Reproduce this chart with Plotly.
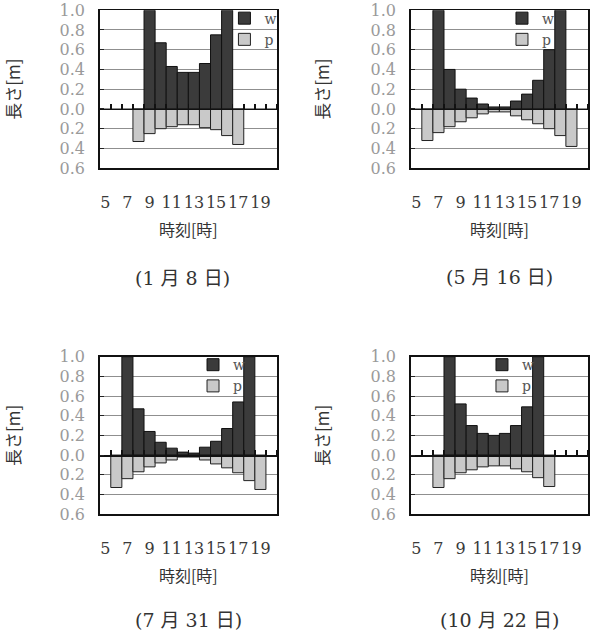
import plotly.graph_objects as go

# ---------------- data ----------------
TICK_HOURS = [5, 7, 9, 11, 13, 15, 17, 19]
TICK_HOUR_LABELS = [str(h) for h in TICK_HOURS]
Y_TICKS = [-0.6, -0.4, -0.2, 0.0, 0.2, 0.4, 0.6, 0.8, 1.0]
Y_TICK_LABELS = ["0.6", "0.4", "0.2", "0.0", "0.2", "0.4", "0.6", "0.8", "1.0"]
BOUNDARIES = [h + 0.5 for h in range(4, 21)]  # category edges (zero-line ticks)

PANEL_TITLES = ["(1 月 8 日)", "(5 月 16 日)", "(7 月 31 日)", "(10 月 22 日)"]

# values that reach the top of the axis are off scale (>= 1.0)
w_hours_jan = [9, 10, 11, 12, 13, 14, 15, 16]
w_jan = [1.0, 0.67, 0.43, 0.37, 0.37, 0.46, 0.75, 1.0]
p_hours_jan = [8, 9, 10, 11, 12, 13, 14, 15, 16, 17]
p_jan = [0.33, 0.25, 0.20, 0.18, 0.16, 0.16, 0.19, 0.21, 0.27, 0.36]

w_hours_may = [7, 8, 9, 10, 11, 12, 13, 14, 15, 16, 17, 18]
w_may = [1.0, 0.40, 0.20, 0.11, 0.05, 0.02, 0.02, 0.08, 0.15, 0.29, 0.60, 1.0]
p_hours_may = [6, 7, 8, 9, 10, 11, 12, 13, 14, 15, 16, 17, 18, 19]
p_may = [0.32, 0.24, 0.18, 0.13, 0.09, 0.05, 0.03, 0.03, 0.07, 0.11, 0.15, 0.20, 0.27, 0.38]

w_hours_jul = [7, 8, 9, 10, 11, 12, 13, 14, 15, 16, 17, 18]
w_jul = [1.0, 0.47, 0.24, 0.13, 0.07, 0.03, 0.02, 0.08, 0.14, 0.27, 0.54, 1.0]
p_hours_jul = [6, 7, 8, 9, 10, 11, 12, 13, 14, 15, 16, 17, 18, 19]
p_jul = [0.33, 0.24, 0.17, 0.12, 0.08, 0.05, 0.02, 0.02, 0.05, 0.09, 0.13, 0.18, 0.26, 0.35]

w_hours_oct = [8, 9, 10, 11, 12, 13, 14, 15, 16]
w_oct = [1.0, 0.52, 0.30, 0.22, 0.20, 0.22, 0.30, 0.49, 1.0]
p_hours_oct = [7, 8, 9, 10, 11, 12, 13, 14, 15, 16, 17]
p_oct = [0.33, 0.24, 0.18, 0.15, 0.12, 0.11, 0.11, 0.14, 0.17, 0.23, 0.32]

PANELS = [
    (w_hours_jan, w_jan, p_hours_jan, p_jan),
    (w_hours_may, w_may, p_hours_may, p_may),
    (w_hours_jul, w_jul, p_hours_jul, p_jul),
    (w_hours_oct, w_oct, p_hours_oct, p_oct),
]

# ---------------- layout geometry ----------------
X_DOMAINS = [[0.167, 0.464], [0.688, 0.985], [0.167, 0.464], [0.688, 0.985]]
Y_DOMAINS = [[0.736, 0.984], [0.736, 0.984], [0.193, 0.440], [0.193, 0.440]]
TITLE_POS = [(0.3065, 0.5636), (0.8375, 0.565), (0.315, 0.0267), (0.8375, 0.0267)]
LEGEND_X = [0.4714, 0.9363, 0.4188, 0.9028]

W_COLOR = "#3b3b3b"
P_COLOR = "#c9c9c9"
SERIF = "DejaVu Serif"
CJK = "Noto Sans CJK JP"
Y_MIN, Y_MAX = -0.6, 1.0
X_RANGE = [4.5, 20.5]

fig = go.Figure()
layout = dict(
    width=597, height=637,
    margin=dict(l=0, r=0, t=0, b=0, autoexpand=False),
    paper_bgcolor="white", plot_bgcolor="white",
    barmode="relative", bargap=0, hovermode=False,
    annotations=[],
)

for i, (wh, wv, ph, pv) in enumerate(PANELS):
    n = i + 1
    xa = f"x{n}" if n > 1 else "x"
    ya = f"y{n}" if n > 1 else "y"
    leg = f"legend{n}" if n > 1 else "legend"
    zx = f"x{n + 4}"

    fig.add_trace(go.Bar(
        x=wh, y=wv, name="w", width=1.0,
        marker=dict(color=W_COLOR, line=dict(color="#111111", width=1)),
        xaxis=xa, yaxis=ya, legend=leg,
    ))
    fig.add_trace(go.Bar(
        x=ph, y=[-v for v in pv], name="p", width=1.0,
        marker=dict(color=P_COLOR, line=dict(color="#222222", width=1)),
        xaxis=xa, yaxis=ya, legend=leg,
    ))
    # empty trace to register the zero-line tick axis
    fig.add_trace(go.Scatter(x=[], y=[], xaxis=zx, yaxis=ya, showlegend=False,
                             hoverinfo="skip"))

    xd, yd = X_DOMAINS[i], Y_DOMAINS[i]
    zero_pos = yd[0] + (0 - Y_MIN) / (Y_MAX - Y_MIN) * (yd[1] - yd[0])

    layout[f"xaxis{n}"] = dict(
        domain=xd, anchor=ya, range=X_RANGE,
        tickmode="array", tickvals=TICK_HOURS, ticktext=TICK_HOUR_LABELS,
        ticks="", ticklabelstandoff=19, tickangle=0,
        tickfont=dict(family=SERIF, size=16, color="#3a3a3a"),
        showgrid=False, zeroline=False,
        showline=True, linecolor="#111111", linewidth=1.5, mirror=True,
        title=dict(text="時刻[時]", font=dict(family=CJK, size=16, color="#333333"),
                   standoff=14),
        fixedrange=True,
    )
    layout[f"yaxis{n}"] = dict(
        domain=yd, anchor=xa, range=[Y_MIN, Y_MAX],
        tickmode="array", tickvals=Y_TICKS, ticktext=Y_TICK_LABELS,
        ticks="inside", ticklen=4, tickcolor="#222222",
        ticklabelstandoff=10,
        tickfont=dict(family=SERIF, size=16, color="#9a9a9a"),
        showgrid=True, gridcolor="#8f8f8f", gridwidth=1, zeroline=False,
        showline=True, linecolor="#111111", linewidth=1.5, mirror=True,
        title=dict(text="長さ[m]", font=dict(family=CJK, size=17, color="#333333"),
                   standoff=36),
        fixedrange=True,
    )
    layout[f"xaxis{n + 4}"] = dict(
        overlaying=xa, anchor="free", position=zero_pos, side="top",
        range=X_RANGE, tickmode="array", tickvals=BOUNDARIES,
        ticks="outside", ticklen=5, tickwidth=1.5, tickcolor="#111111",
        showticklabels=False, showgrid=False, zeroline=False,
        showline=True, linecolor="#111111", linewidth=1.5,
        layer="above traces", fixedrange=True,
    )
    layout[leg] = dict(
        x=LEGEND_X[i], xanchor="right", y=yd[1] + 0.012, yanchor="top",
        bgcolor="rgba(0,0,0,0)", borderwidth=0,
        font=dict(family=SERIF, size=14, color="#555555"),
        itemwidth=30, tracegroupgap=0, traceorder="normal",
    )
    tx, ty = TITLE_POS[i]
    layout["annotations"].append(dict(
        text=PANEL_TITLES[i], xref="paper", yref="paper", x=tx, y=ty,
        xanchor="center", yanchor="middle", showarrow=False,
        font=dict(family=f"{SERIF}, {CJK}", size=19, color="#333333"),
    ))

fig.update_layout(**layout)
fig.write_html(
    "out.html",
    config={"displayModeBar": False, "staticPlot": True},
    post_script="document.body.style.margin='0';document.body.style.overflow='hidden';",
)
